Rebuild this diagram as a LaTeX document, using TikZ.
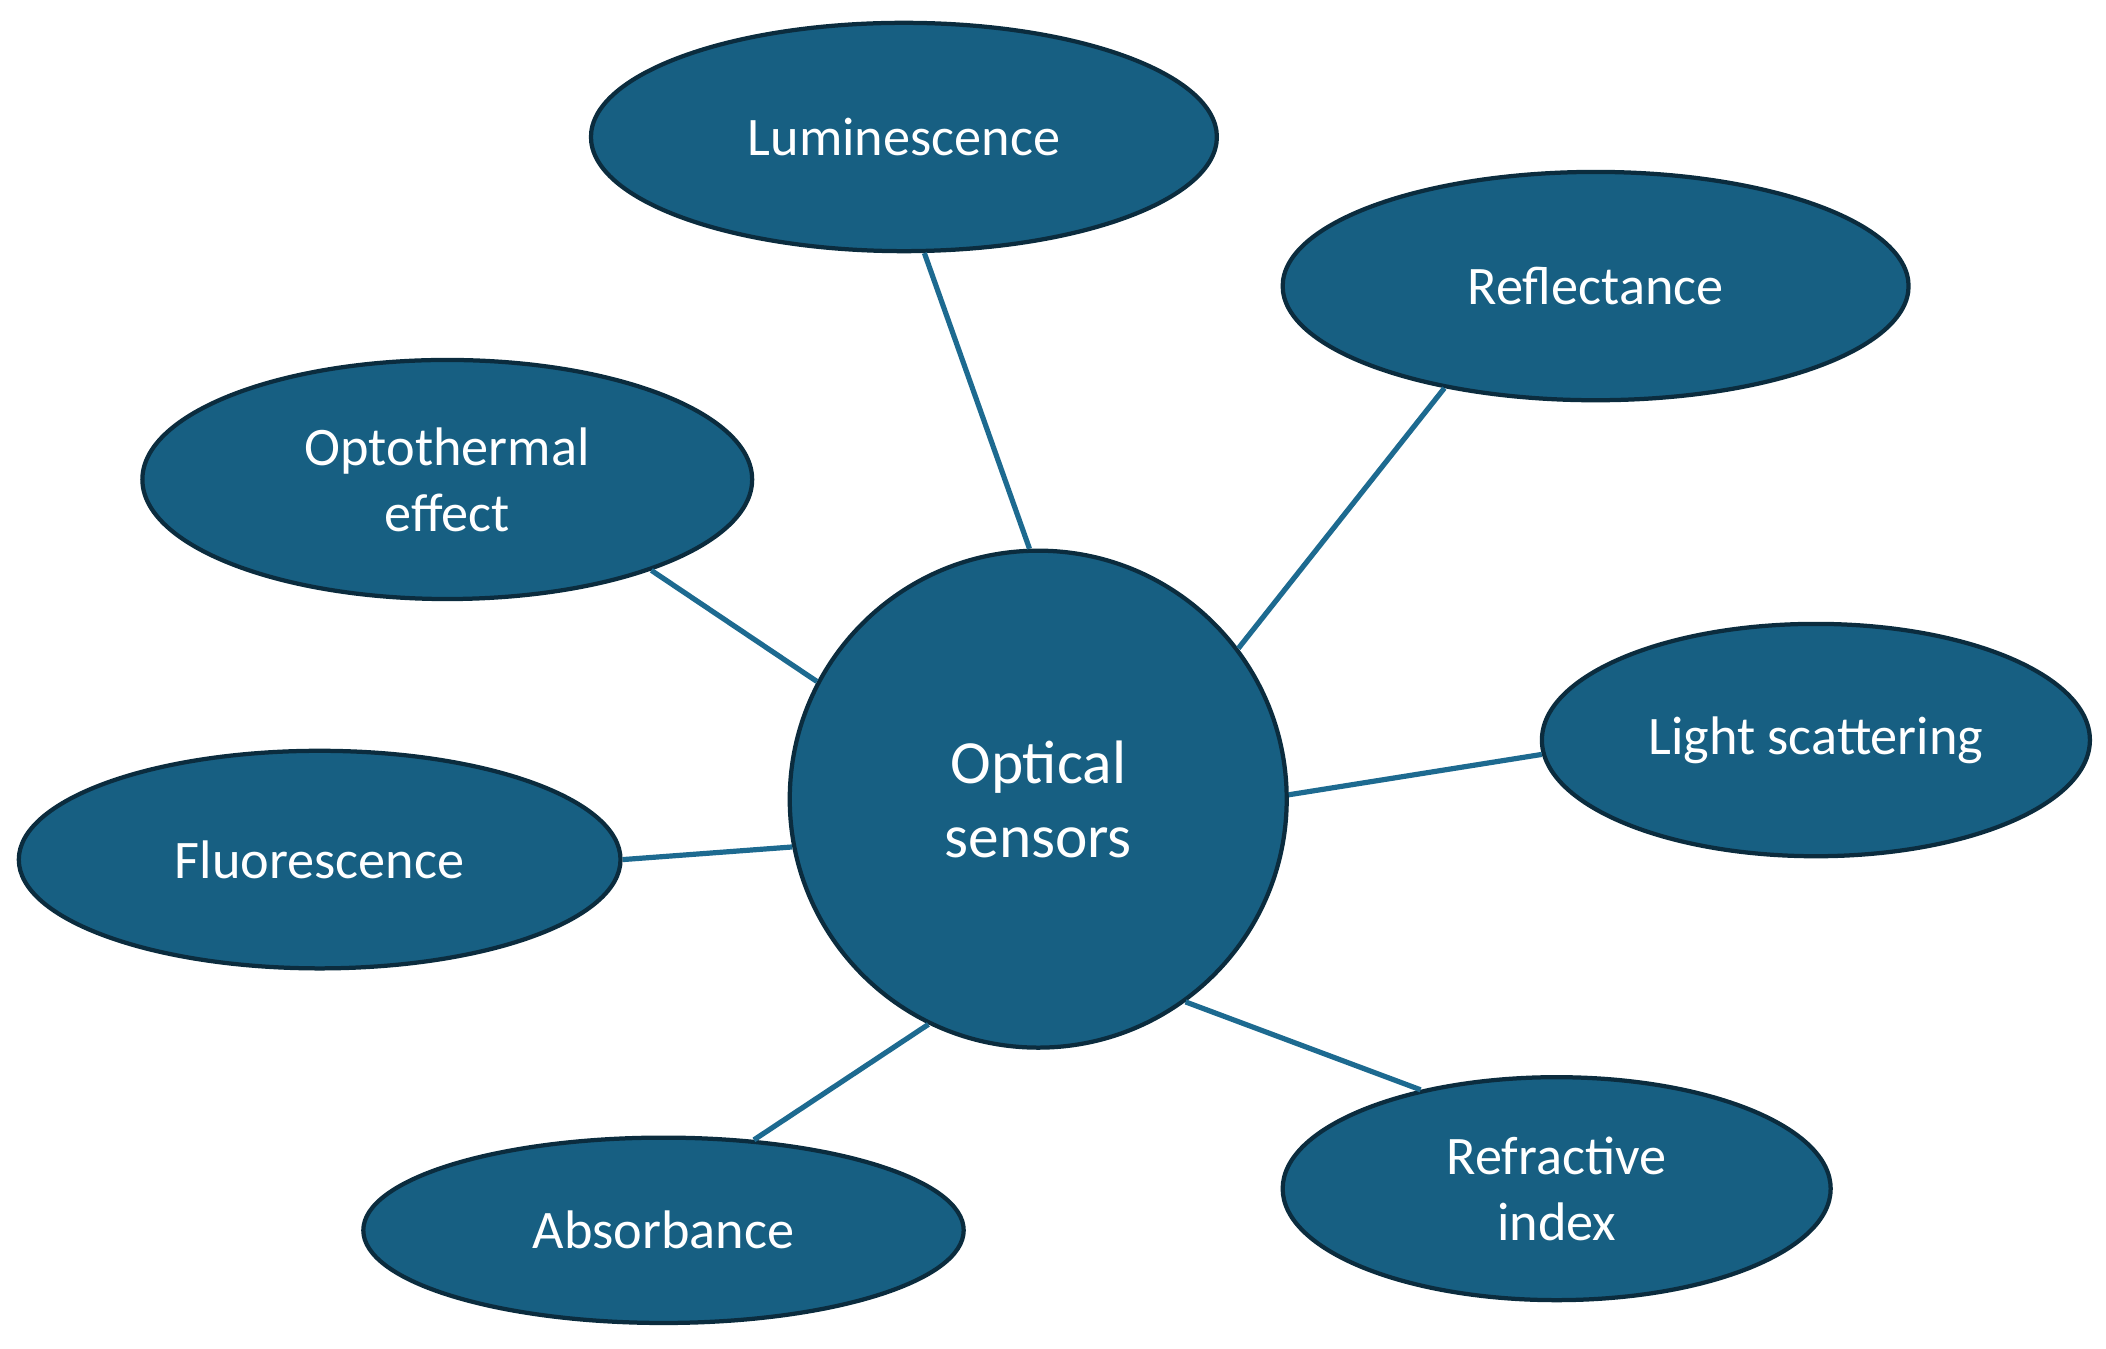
\documentclass[tikz,border=0pt]{standalone}
\usepackage{fontspec}
\setmainfont{Carlito}
\usepackage{xcolor}
\usetikzlibrary{shapes.geometric}

\definecolor{bubblefill}{HTML}{175F82}
\definecolor{bubbleedge}{HTML}{0B2C3E}
\definecolor{linkblue}{HTML}{1D6A90}

\begin{document}
\begin{tikzpicture}[
  bubble/.style={draw=bubbleedge, line width=0.9pt, fill=bubblefill, ellipse, inner sep=0pt,
    text=white, align=center, font=\fontsize{11.5}{14}\selectfont},
  link/.style={draw=linkblue, line width=1.1pt}
]
\useasboundingbox (0,0) rectangle (15.68,10.04);
\node[bubble, circle, minimum size=3.7cm, font=\fontsize{13}{15.6}\selectfont] (optical) at (7.73,4.09) {Optical\\sensors};
\node[bubble, minimum width=4.66cm, minimum height=1.70cm] (lumin) at (6.73,9.02) {Luminescence};
\node[bubble, minimum width=4.66cm, minimum height=1.70cm] (reflect) at (11.88,7.91) {Reflectance};
\node[bubble, minimum width=4.54cm, minimum height=1.78cm] (opto) at (3.33,6.47) {Optothermal\\effect};
\node[bubble, minimum width=4.08cm, minimum height=1.73cm] (scatter) at (13.52,4.53) {Light scattering};
\node[bubble, minimum width=4.48cm, minimum height=1.62cm] (fluor) at (2.38,3.64) {Fluorescence};
\node[bubble, minimum width=4.47cm, minimum height=1.38cm] (absorb) at (4.94,0.88) {Absorbance};
\node[bubble, minimum width=4.08cm, minimum height=1.66cm] (refract) at (11.59,1.19) {Refractive\\index};
% spokes from the centre
\draw[link] (optical.92.2) -- (lumin.280.9);
\draw[link] (optical.37.3) -- (reflect.214.3);
\draw[link] (optical.152.9) -- (opto.336.2);
\draw[link] (optical.1.2) -- (scatter.183.1);
\draw[link] (optical.191.8) -- (fluor.0.5);
\draw[link] (optical.244.1) -- (absorb.45.4);
\draw[link] (optical.306.2) -- (refract.144.8);
\end{tikzpicture}
\end{document}
